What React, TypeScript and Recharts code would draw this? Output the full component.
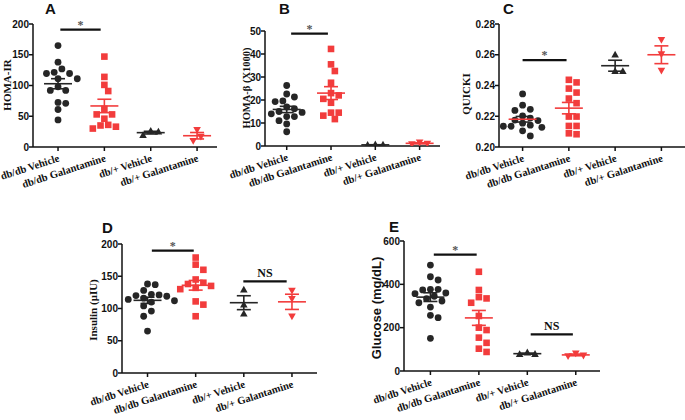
import React from "react";
import {
  ErrorBar,
  ReferenceLine,
  Scatter,
  ScatterChart,
  XAxis,
  YAxis,
} from "recharts";

const groups = ["db/db Vehicle", "db/db Galantamine", "db/+ Vehicle", "db/+ Galantamine"];

// A: HOMA-IR
const homaIrVeh = [165, 138, 127, 121.5, 119.5, 119.5, 111, 111, 98, 92, 92, 72.5, 71, 61, 44];
const homaIrGal = [147, 114, 101, 91, 62, 53, 53, 46, 36, 35, 33, 30];
const homaIrWtVeh = [26, 25, 19];
const homaIrWtGal = [28, 17, 10];

// B: HOMA-beta (x1000)
const homaBVeh = [26.3, 22.6, 21.3, 19.6, 19.3, 17, 16.2, 15, 14.6, 14, 12.8, 12.8, 11, 9.6, 6.2];
const homaBGal = [42.2, 35.5, 32.6, 27.5, 23, 22, 20.5, 18.8, 14.5, 14.5, 13.2, 11.7];
const homaBWtVeh = [0.6, 0.5, 0.4];
const homaBWtGal = [1.6, 1.1, 0.8];

// C: QUICKI
const quickiVeh = [0.2345, 0.2272, 0.2245, 0.2238, 0.2202, 0.2188, 0.2175, 0.2172, 0.2155, 0.2142, 0.2135, 0.2135, 0.2128, 0.2105, 0.2072];
const quickiGal = [0.2437, 0.242, 0.238, 0.2354, 0.2315, 0.2285, 0.2198, 0.2198, 0.2137, 0.2137, 0.2089, 0.2083];
const quickiWtVeh = [0.26, 0.2493, 0.2493];
const quickiWtGal = [0.2698, 0.2604, 0.2498];

// D: insulin
const insulinVeh = [138, 137, 128, 122, 121, 120, 119, 116, 114, 112, 110, 104, 96, 88, 65];
const insulinGal = [179, 168, 160, 145, 140, 138, 135, 132, 130, 111, 106, 88];
const insulinWtVeh = [129, 106, 92];
const insulinWtGal = [128, 115, 88];

// E: glucose
const glucoseVeh = [489, 435, 420, 377, 377, 374, 360, 357, 345, 334, 323, 315, 295, 257, 246, 151];
const glucoseGal = [458, 374, 341, 335, 315, 254, 200, 189, 154, 130, 103, 88];
const glucoseWtVeh = [85, 78, 77];
const glucoseWtGal = [82, 72, 69];

// significance brackets: [fromX, toX, y, text]
const sigA: [number, number, number, string][] = [[0.05, 0.92, 191, "*"]];
const sigB: [number, number, number, string][] = [[0.1, 0.93, 48.9, "*"]];
const sigC: [number, number, number, string][] = [[0.0, 0.95, 0.2565, "*"]];
const sigD: [number, number, number, string][] = [[0.09, 0.96, 189.6, "*"], [1.99, 2.89, 142, "NS"]];
const sigE: [number, number, number, string][] = [[0.07, 0.955, 537, "*"], [2.07, 2.94, 169, "NS"]];

const BLACK = "#262626";
const RED = "#f23c3c";
const SERIF = "'Liberation Serif', 'Times New Roman', serif";
const SANS = "'Liberation Sans', Arial, sans-serif";

const kinds = ["circle", "square", "up", "down"];
const colors = [BLACK, RED, BLACK, RED];

function marker(kind: string, color: string) {
  return (p: any) => {
    const { cx, cy } = p;
    if (cx == null || cy == null) return <g />;
    if (kind === "circle") return <circle cx={cx} cy={cy} r={3.4} fill={color} />;
    if (kind === "square") return <rect x={cx - 3.3} y={cy - 3.3} width={6.6} height={6.6} fill={color} />;
    if (kind === "up")
      return <path d={`M${cx},${cy - 4} L${cx + 3.8},${cy + 2.8} L${cx - 3.8},${cy + 2.8} Z`} fill={color} />;
    return <path d={`M${cx},${cy + 4} L${cx + 3.8},${cy - 2.8} L${cx - 3.8},${cy - 2.8} Z`} fill={color} />;
  };
}

function meanLine(color: string) {
  return (p: any) => {
    const { cx, cy } = p;
    if (cx == null || cy == null) return <g />;
    return <line x1={cx - 14} x2={cx + 14} y1={cy} y2={cy} stroke={color} strokeWidth={1.6} />;
  };
}

// simple deterministic beeswarm in pixel space
function swarm(values: number[], gi: number, pxX: number, pxY: number) {
  const d = 7;
  const step = d * 0.55;
  const placed: { px: number; py: number }[] = [];
  const order = values.map((_, i) => i).sort((a, b) => values[b] - values[a]);
  const out: { x: number; y: number }[] = new Array(values.length);
  for (const i of order) {
    const py = values[i] * pxY;
    for (let k = 0; k < 60; k++) {
      const off = k === 0 ? 0 : (k % 2 ? 1 : -1) * Math.ceil(k / 2) * step;
      if (placed.every((q) => Math.hypot(q.px - off, q.py - py) >= d)) {
        placed.push({ px: off, py });
        out[i] = { x: gi + off / pxX, y: values[i] };
        break;
      }
    }
  }
  return out;
}

function stats(values: number[]) {
  const n = values.length;
  const m = values.reduce((s, v) => s + v, 0) / n;
  const sd = Math.sqrt(values.reduce((s, v) => s + (v - m) ** 2, 0) / (n - 1));
  return { mean: m, sem: sd / Math.sqrt(n) };
}

const XTick = (p: any) => {
  const { x, y, payload } = p;
  const tx = x + 2;
  const ty = y + 8;
  return (
    <text
      x={tx}
      y={ty}
      textAnchor="end"
      transform={`rotate(-18, ${tx}, ${ty})`}
      fontFamily={SERIF}
      fontWeight="bold"
      fontSize={10.5}
      fill="#111"
    >
      {groups[payload.value]}
    </text>
  );
};

type PanelProps = {
  left: number;
  top: number;
  width: number;
  height: number;
  plotLeft: number;
  plotTop: number;
  plotRight: number;
  plotBottom: number;
  xDomain: [number, number];
  yDomain: [number, number];
  yTicks: number[];
  yFormat?: (v: number) => string;
  series: number[][];
  meanColors: string[];
  sig: [number, number, number, string][];
};

function Panel(props: PanelProps) {
  const { left, top, width, height, plotLeft, plotTop, plotRight, plotBottom, xDomain, yDomain, yTicks, yFormat, series, meanColors, sig } = props;
  const pxX = (plotRight - plotLeft) / (xDomain[1] - xDomain[0]);
  const pxY = (plotBottom - plotTop) / (yDomain[1] - yDomain[0]);
  const xAxisH = 40;
  return (
    <div style={{ position: "absolute", left, top }}>
      <ScatterChart
        width={width}
        height={height}
        margin={{ top: plotTop - top, right: left + width - plotRight, bottom: top + height - plotBottom - xAxisH, left: 0 }}
        style={{ overflow: "visible" }}
      >
        <XAxis
          type="number"
          dataKey="x"
          domain={xDomain}
          ticks={[0, 1, 2, 3]}
          height={xAxisH}
          tick={<XTick />}
          tickSize={4}
          stroke="#111"
          strokeWidth={1.5}
          interval={0}
          allowDataOverflow
        />
        <YAxis
          type="number"
          dataKey="y"
          domain={yDomain}
          ticks={yTicks}
          width={plotLeft - left}
          tickFormatter={yFormat}
          tick={{ fontFamily: SANS, fontWeight: "bold", fontSize: 10, fill: "#111" }}
          tickSize={4}
          tickMargin={0}
          stroke="#111"
          strokeWidth={1.5}
          interval={0}
          allowDataOverflow
        />
        {series.map((vals, gi) => (
          <Scatter
            key={"pts" + gi}
            data={swarm(vals, gi, pxX, pxY)}
            shape={marker(kinds[gi], colors[gi])}
            isAnimationActive={false}
          />
        ))}
        {series.map((vals, gi) => {
          const s = stats(vals);
          return (
            <Scatter
              key={"mean" + gi}
              data={[{ x: gi, y: s.mean, sem: s.sem }]}
              shape={meanLine(meanColors[gi])}
              isAnimationActive={false}
            >
              <ErrorBar dataKey="sem" direction="y" width={7} stroke={colors[gi]} strokeWidth={1.6} />
            </Scatter>
          );
        })}
        {sig.map(([a, b, y, t], i) => (
          <ReferenceLine
            key={"sig" + i}
            segment={[{ x: a, y }, { x: b, y }]}
            stroke="#111"
            strokeWidth={2.2}
            ifOverflow="visible"
            label={{
              value: t,
              position: "top",
              fill: t === "*" ? "#555" : "#111",
              fontFamily: SERIF,
              fontWeight: "bold",
              fontSize: 12,
              offset: t === "*" ? 1 : 4,
            }}
          />
        ))}
      </ScatterChart>
    </div>
  );
}

const letters: [number, number, string][] = [
  [45, 14, "A"],
  [279, 14, "B"],
  [503, 14, "C"],
  [102, 233, "D"],
  [389, 232, "E"],
];

const yLabels: [number, number, string, boolean, number][] = [
  [7, 85, "HOMA-IR", false, 11],
  [246, 88, "HOMA-β (X1000)", false, 10.5],
  [466, 94, "QUICKI", false, 11],
  [93, 310, "Insulin (μIU)", false, 11],
  [376, 308, "Glucose (mg/dL)", true, 13],
];

export default function App() {
  return (
    <div style={{ position: "absolute", left: 0, top: 0, width: 685, height: 420, background: "#fff", overflow: "hidden" }}>
      <Panel
        left={0} top={0} width={230} height={200}
        plotLeft={33} plotTop={24} plotRight={217} plotBottom={147}
        xDomain={[-0.54, 3.43]} yDomain={[0, 200]} yTicks={[0, 50, 100, 150, 200]}
        series={[homaIrVeh, homaIrGal, homaIrWtVeh, homaIrWtGal]}
        meanColors={[BLACK, RED, BLACK, RED]}
        sig={sigA}
      />
      <Panel
        left={225} top={0} width={230} height={200}
        plotLeft={265} plotTop={31} plotRight={440} plotBottom={146}
        xDomain={[-0.49, 3.46]} yDomain={[0, 50]} yTicks={[0, 10, 20, 30, 40, 50]}
        series={[homaBVeh, homaBGal, homaBWtVeh, homaBWtGal]}
        meanColors={[BLACK, RED, BLACK, RED]}
        sig={sigB}
      />
      <Panel
        left={455} top={0} width={230} height={200}
        plotLeft={499} plotTop={24} plotRight={685} plotBottom={147}
        xDomain={[-0.51, 3.51]} yDomain={[0.2, 0.28]} yTicks={[0.2, 0.22, 0.24, 0.26, 0.28]}
        yFormat={(v) => v.toFixed(2)}
        series={[quickiVeh, quickiGal, quickiWtVeh, quickiWtGal]}
        meanColors={[RED, RED, BLACK, RED]}
        sig={sigC}
      />
      <Panel
        left={80} top={220} width={250} height={200}
        plotLeft={122} plotTop={244} plotRight={317} plotBottom={373}
        xDomain={[-0.53, 3.52]} yDomain={[0, 200]} yTicks={[0, 50, 100, 150, 200]}
        series={[insulinVeh, insulinGal, insulinWtVeh, insulinWtGal]}
        meanColors={[BLACK, RED, BLACK, RED]}
        sig={sigD}
      />
      <Panel
        left={370} top={220} width={250} height={200}
        plotLeft={404} plotTop={241} plotRight={600} plotBottom={371}
        xDomain={[-0.545, 3.5]} yDomain={[0, 600]} yTicks={[0, 200, 400, 600]}
        series={[glucoseVeh, glucoseGal, glucoseWtVeh, glucoseWtGal]}
        meanColors={[BLACK, RED, BLACK, RED]}
        sig={sigE}
      />
      <svg width={685} height={420} style={{ position: "absolute", left: 0, top: 0, pointerEvents: "none" }}>
        {letters.map(([x, y, t]) => (
          <text key={t} x={x} y={y} fontFamily={SANS} fontWeight="bold" fontSize={15} fill="#111">
            {t}
          </text>
        ))}
        {yLabels.map(([x, y, t, sans, size]) => (
          <text
            key={t}
            x={x}
            y={y}
            transform={`rotate(-90, ${x}, ${y})`}
            textAnchor="middle"
            dominantBaseline="central"
            fontFamily={sans ? SANS : SERIF}
            fontWeight="bold"
            fontSize={size}
            fill="#111"
          >
            {t}
          </text>
        ))}
      </svg>
    </div>
  );
}
